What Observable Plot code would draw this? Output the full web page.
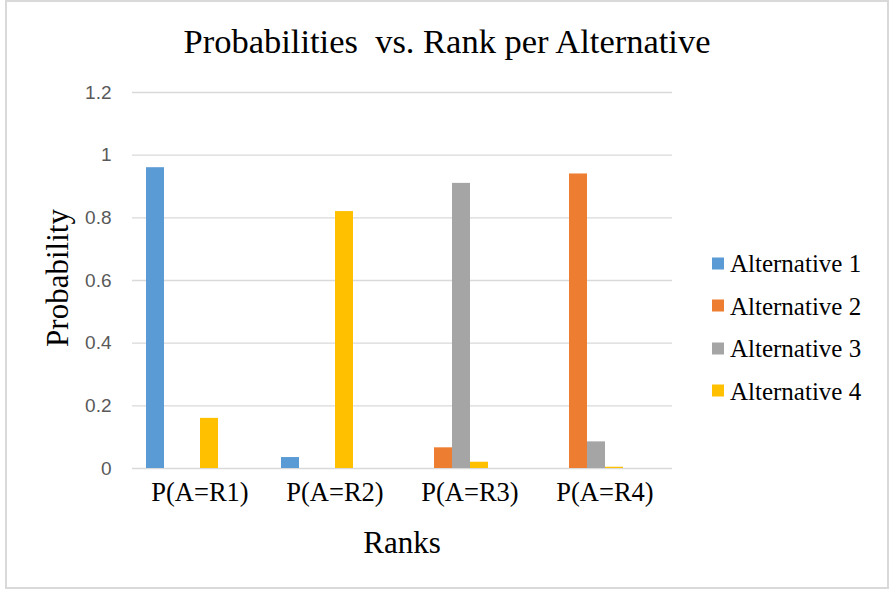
<!DOCTYPE html>
<html>
<head>
<meta charset="utf-8">
<script src="https://cdn.jsdelivr.net/npm/d3@7"></script>
<script src="https://cdn.jsdelivr.net/npm/@observablehq/plot@0.6"></script>
<style>
  html, body { margin: 0; padding: 0; background: #fff; }
  #chart { position: relative; width: 890px; height: 592px; overflow: hidden; background: #fff; }
  #frame { position: absolute; left: 5px; top: 0; width: 884px; height: 589px; border: 2px solid #d9d9d9; box-sizing: border-box; }
  .serif { font-family: "Liberation Serif", "Times New Roman", "Liberation Sans", sans-serif; color: #000; white-space: pre; line-height: 1; }
  #title { position: absolute; left: 447px; top: 24px; transform: translateX(-50%); font-size: 34.5px; }
  #ytitle { position: absolute; left: 57px; top: 278px; transform: translate(-50%, -50%) rotate(-90deg); font-size: 31px; }
  #xtitle { position: absolute; left: 402px; top: 527px; transform: translateX(-50%); font-size: 31px; }
  #plot { position: absolute; left: 0; top: 0; }
  #legend { position: absolute; left: 712px; top: 0; }
  .item { position: absolute; left: 0; display: flex; align-items: center; transform: translateY(-50%); }
  .swatch { width: 12px; height: 12px; margin-right: 6px; }
  .item span { font-size: 25px; }
</style>
</head>
<body>
<div id="chart">
  <div id="frame"></div>
  <div id="plot"></div>
  <div id="title" class="serif">Probabilities  vs. Rank per Alternative</div>
  <div id="ytitle" class="serif">Probability</div>
  <div id="xtitle" class="serif">Ranks</div>
  <div id="legend"></div>
</div>
<script>
// Rank categories along the bottom
const ranks = ["P(A=R1)", "P(A=R2)", "P(A=R3)", "P(A=R4)"];
// Series names and their colours
const alternatives = ["Alternative 1", "Alternative 2", "Alternative 3", "Alternative 4"];
const colors = ["#5B9BD5", "#ED7D31", "#A5A5A5", "#FFC000"];
// Probability of each alternative at each rank
const alt1 = [0.96, 0.035, 0, 0];
const alt2 = [0, 0, 0.066, 0.94];
const alt3 = [0, 0, 0.91, 0.085];
const alt4 = [0.16, 0.82, 0.02, 0.004];
// Value axis ticks
const yTicks = [0, 0.2, 0.4, 0.6, 0.8, 1, 1.2];

const serifStack = '"Liberation Serif", "Times New Roman", "Liberation Sans", sans-serif';

const series = [alt1, alt2, alt3, alt4];
const rows = [];
series.forEach((vals, i) => vals.forEach((v, j) => rows.push({rank: ranks[j], alt: alternatives[i], p: v})));

const plot = Plot.plot({
  width: 890,
  height: 592,
  marginLeft: 132,
  marginRight: 218,
  marginTop: 92,
  marginBottom: 124,
  style: {background: "transparent", overflow: "visible"},
  fx: {domain: ranks, padding: 0, label: null},
  x: {domain: alternatives, paddingInner: 0, paddingOuter: 1.75, align: 0.22, axis: null},
  y: {domain: [0, 1.2], label: null},
  color: {domain: alternatives, range: colors},
  marks: [
    Plot.gridY(yTicks, {stroke: "#d9d9d9", strokeOpacity: 1, strokeWidth: 1.3}),
    Plot.axisY({ticks: yTicks, tickSize: 0, tickPadding: 21, fontSize: 19, fill: "#595959",
      fontFamily: "Liberation Sans", label: null, tickFormat: d => String(d)}),
    Plot.axisFx({anchor: "bottom", tickSize: 0, tickPadding: 14, fontSize: 26.5,
      fontFamily: serifStack, fill: "#000", label: null}),
    Plot.barY(rows, {fx: "rank", x: "alt", y: "p", fill: "alt"})
  ]
});
document.getElementById("plot").appendChild(plot);

// Legend on the right
const legend = d3.select("#legend");
alternatives.forEach((name, i) => {
  const item = legend.append("div").attr("class", "item").style("top", (263 + i * 42.5) + "px");
  item.append("div").attr("class", "swatch").style("background", colors[i]);
  item.append("span").attr("class", "serif").text(name);
});
</script>
</body>
</html>
